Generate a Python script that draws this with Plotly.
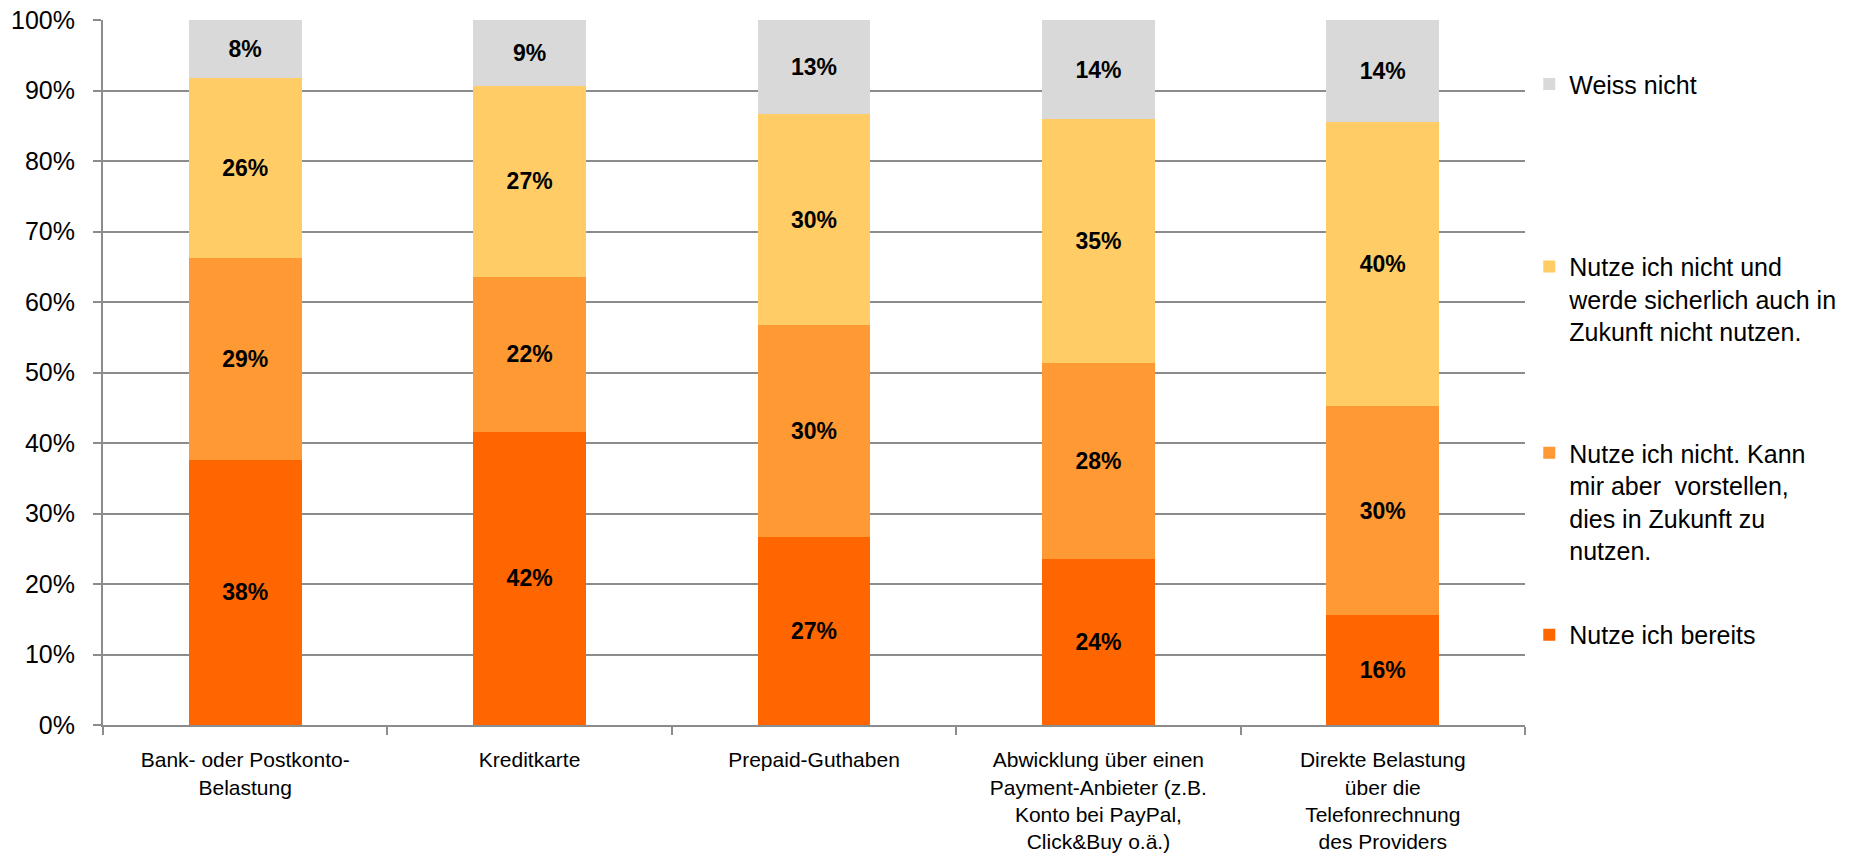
import plotly.graph_objects as go

categories = [
    "Bank- oder Postkonto-<br>Belastung",
    "Kreditkarte",
    "Prepaid-Guthaben",
    "Abwicklung über einen<br>Payment-Anbieter (z.B.<br>Konto bei PayPal,<br>Click&Buy o.ä.)",
    "Direkte Belastung<br>über die<br>Telefonrechnung<br>des Providers",
]

# Share of respondents per payment method (%)
nutze_bereits = [37.6, 41.6, 26.6, 23.6, 15.6]
kann_vorstellen = [28.6, 22.0, 30.1, 27.7, 29.6]
nicht_nutzen = [25.6, 27.1, 30.0, 34.6, 40.4]
weiss_nicht = [8.2, 9.3, 13.3, 14.1, 14.4]

series = [
    ("Nutze ich bereits", nutze_bereits, "#FF6600", "legend4"),
    ("Nutze ich nicht. Kann<br>mir aber  vorstellen,<br>dies in Zukunft zu<br>nutzen.",
     kann_vorstellen, "#FF9933", "legend3"),
    ("Nutze ich nicht und<br>werde sicherlich auch in<br>Zukunft nicht nutzen.",
     nicht_nutzen, "#FFCC66", "legend2"),
    ("Weiss nicht", weiss_nicht, "#D9D9D9", "legend"),
]

FONT = "Liberation Sans, Arial, sans-serif"

fig = go.Figure()
for name, vals, color, leg in series:
    fig.add_trace(go.Bar(
        x=categories,
        y=vals,
        name=name,
        legend=leg,
        showlegend=True,
        marker=dict(color=color, line=dict(width=0)),
        texttemplate="%{y:.0f}%",
        textposition="inside",
        insidetextanchor="middle",
        constraintext="none",
        textfont=dict(family=FONT, size=23, color="#000000", weight="bold"),
        hoverinfo="skip",
    ))

legend_common = dict(
    x=1.003,
    xanchor="left",
    yanchor="middle",
    font=dict(family=FONT, size=25, color="#000000"),
    bgcolor="rgba(0,0,0,0)",
    borderwidth=0,
    valign="top",
)

fig.update_layout(
    barmode="stack",
    bargap=0.603,
    width=1872,
    height=857,
    margin=dict(l=103, r=347, t=20, b=132),
    paper_bgcolor="white",
    plot_bgcolor="white",
    font=dict(family=FONT, color="#000000"),
    showlegend=True,
    legend=dict(y=0.909, **legend_common),
    legend2=dict(y=0.604, **legend_common),
    legend3=dict(y=0.317, **legend_common),
    legend4=dict(y=0.1277, **legend_common),
    xaxis=dict(
        type="category",
        automargin=False,
        showgrid=False,
        showline=True,
        linecolor="#8C8C8C",
        linewidth=2,
        ticks="outside",
        tickson="boundaries",
        ticklen=8,
        tickwidth=2,
        tickcolor="#8C8C8C",
        tickfont=dict(family=FONT, size=21, color="#000000"),
        ticklabelstandoff=15,
    ),
    yaxis=dict(
        range=[0, 100],
        dtick=10,
        ticksuffix="%",
        automargin=False,
        showgrid=True,
        gridcolor="#8C8C8C",
        gridwidth=2,
        zeroline=False,
        showline=True,
        linecolor="#8C8C8C",
        linewidth=2,
        ticks="outside",
        ticklen=8,
        tickwidth=2,
        tickcolor="#8C8C8C",
        tickfont=dict(family=FONT, size=25, color="#000000"),
        ticklabelstandoff=13,
    ),
)

fig.write_html("out.html")
